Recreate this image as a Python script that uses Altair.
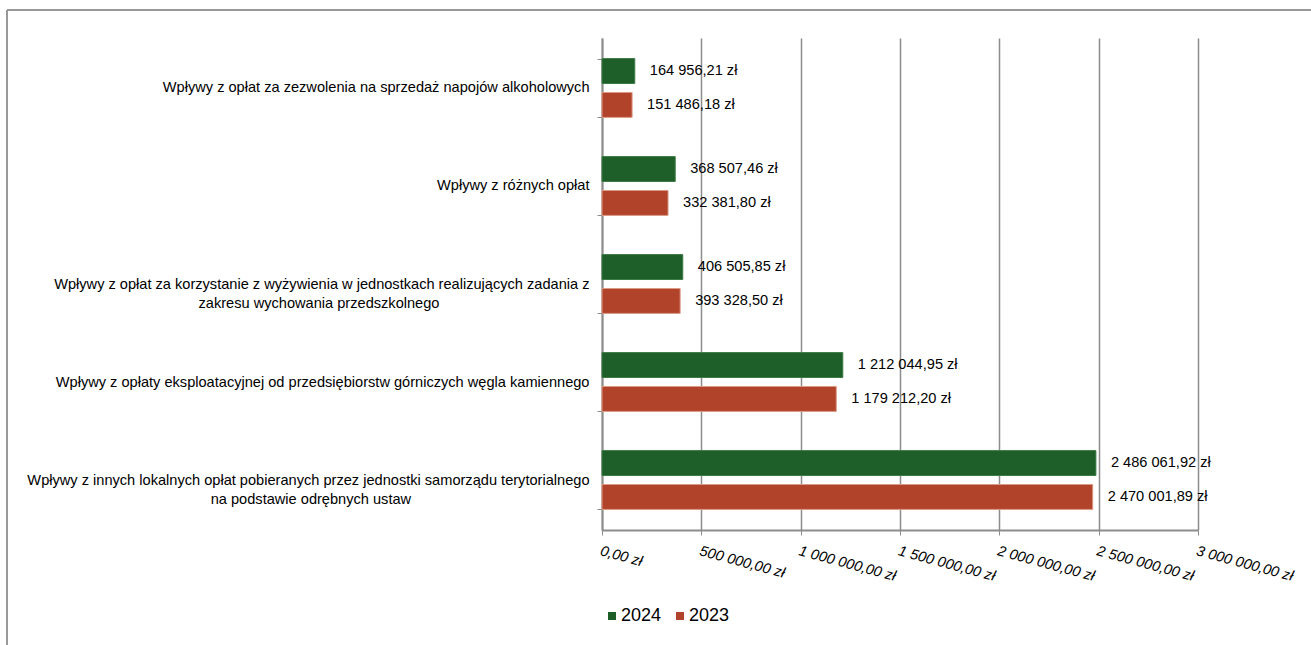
import altair as alt
import pandas as pd

NB = "\u00a0"
ZW = "\u200b"
categories = [
    "Wpływy z opłat za zezwolenia na sprzedaż napojów alkoholowych",
    "Wpływy z różnych opłat",
    "Wpływy z opłat za korzystanie z wyżywienia w jednostkach realizujących zadania z|zakresu wychowania przedszkolnego" + NB * 37 + ZW,
    "Wpływy z opłaty eksploatacyjnej od przedsiębiorstw górniczych węgla kamiennego",
    "Wpływy z innych lokalnych opłat pobieranych przez jednostki samorządu terytorialnego|na podstawie odrębnych ustaw" + NB * 44 + ZW,
]
years = ["2024", "2023"]
values_2024 = [164956.21, 368507.46, 406505.85, 1212044.95, 2486061.92]
values_2023 = [151486.18, 332381.80, 393328.50, 1179212.20, 2470001.89]
x_ticks = [0, 500000, 1000000, 1500000, 2000000, 2500000, 3000000]
colors = ["#1e5e29", "#b0432a"]

rows = []
for c, v24, v23 in zip(categories, values_2024, values_2023):
    rows.append({"kategoria": c, "rok": "2024", "wartosc": v24})
    rows.append({"kategoria": c, "rok": "2023", "wartosc": v23})
df = pd.DataFrame(rows)

FONT = "Liberation Sans"
FS = 14.6

y_enc = alt.Y(
    "kategoria:N",
    sort=categories,
    scale=alt.Scale(paddingInner=0.4, paddingOuter=0.21),
    axis=alt.Axis(
        title=None,
        labelExpr="split(datum.label, '|')",
        labelAlign="right",
        labelBaseline="middle",
        labelLineHeight=19,
        labelFontSize=FS,
        labelFont=FONT,
        labelColor="#000000",
        labelPadding=8,
        labelLimit=0,
        tickBand="extent",
        tickSize=5,
        tickColor="#8c8c8c",
        tickWidth=1,
        domainColor="#8c8c8c",
        domainWidth=2,
        grid=False,
    ),
)
yoff = alt.YOffset("rok:N", sort=years, scale=alt.Scale(paddingInner=0.265, paddingOuter=0))
x_enc = alt.X(
    "wartosc:Q",
    scale=alt.Scale(domain=[0, 3000000], nice=False),
    axis=alt.Axis(
        title=None,
        values=x_ticks,
        format="$,.2f",
        labelAngle=15,
        labelAlign="left",
        labelBaseline="top",
        labelFontSize=FS,
        labelFont=FONT,
        labelFontStyle="italic",
        labelColor="#000000",
        labelPadding=8,
        labelOverlap=False,
        labelFlush=False,
        tickSize=5,
        tickColor="#8c8c8c",
        domainColor="#8c8c8c",
        domainWidth=2,
        gridColor="#8c8c8c",
        gridWidth=1.5,
    ),
)

base = alt.Chart(df)

bars = base.mark_bar(strokeWidth=1).encode(
    x=x_enc,
    y=y_enc,
    yOffset=yoff,
    color=alt.Color(
        "rok:N",
        sort=years,
        scale=alt.Scale(domain=years, range=colors),
        legend=alt.Legend(
            title=None,
            orient="none",
            legendX=1,
            legendY=569,
            direction="horizontal",
            symbolType="square",
            symbolSize=64,
            symbolStrokeWidth=0,
            labelFontSize=18,
            labelFont=FONT,
            labelColor="#000000",
            columnPadding=9,
            labelOffset=0,
        ),
    ),
    stroke=alt.Stroke("rok:N", sort=years, scale=alt.Scale(domain=years, range=["#3d7a45", "#dc9a86"]), legend=None),
)

labels = base.mark_text(align="left", baseline="middle", dx=15, fontSize=FS, font=FONT, color="#000000").encode(
    x="wartosc:Q",
    y=alt.Y("kategoria:N", sort=categories),
    yOffset=alt.YOffset("rok:N", sort=years),
    text=alt.Text("wartosc:Q", format="$,.2f"),
)

frame_top = alt.Chart(df).mark_rule(color="#999999", strokeWidth=1.5).encode(
    x=alt.value(-595), x2=alt.value(713), y=alt.value(-28)
)
frame_left = alt.Chart(df).mark_rule(color="#999999", strokeWidth=2).encode(
    x=alt.value(-595), y=alt.value(-28), y2=alt.value(607)
)

chart = (
    alt.layer(bars, labels, frame_top, frame_left)
    .properties(
        width=596,
        height=492,
        autosize=alt.AutoSizeParams(type="none"),
        padding={"left": 602, "top": 38, "right": 113, "bottom": 115},
    )
    .configure(
        background="white",
        locale={
            "number": {
                "decimal": ",",
                "thousands": " ",
                "grouping": [3],
                "currency": ["", " zł"],
            }
        },
    )
    .configure_view(stroke=None)
)

chart.save("out.html", embed_options={"renderer": "svg", "actions": False})
